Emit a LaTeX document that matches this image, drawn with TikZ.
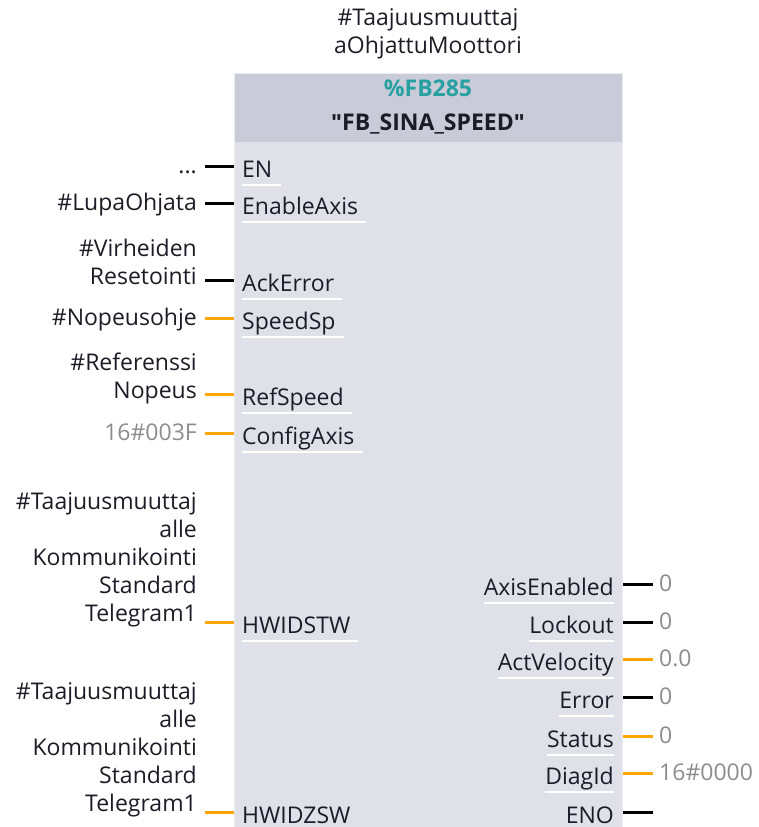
\documentclass[tikz,border=0pt]{standalone}
\usepackage{fontspec}
\setmainfont{Open Sans}
\newfontfamily\quotefont{Liberation Sans}
\definecolor{headfill}{RGB}{201,203,217}
\definecolor{bodyfill}{RGB}{223,224,232}
\definecolor{boxedge}{RGB}{236,236,242}
\definecolor{wireorange}{RGB}{255,165,0}
\definecolor{fbteal}{RGB}{38,160,160}
\definecolor{valgray}{RGB}{140,140,140}
\definecolor{ink}{RGB}{28,28,38}
\newcommand\dq{{\quotefont\bfseries\symbol{34}}}
\tikzset{
  every node/.style={font=\fontsize{23}{28}\selectfont, text=ink, inner sep=0pt},
  wireK/.style={draw=black, line width=3pt},
  wireO/.style={draw=wireorange, line width=3pt},
  inpin/.style={anchor=base west},
  outpin/.style={anchor=base east},
  srclabel/.style={anchor=south east, align=right, text depth=0pt},
  outval/.style={anchor=base west, text=valgray},
  uline/.style={draw=white, line width=1.2pt},
}
\begin{document}
\begin{tikzpicture}[x=1pt,y=-1pt]
\useasboundingbox (0,0) rectangle (759,827);

% block body and header
\fill[bodyfill] (235,74) rectangle (622,830);
\fill[headfill] (235,74) rectangle (622,142);
\draw[boxedge, line width=1pt] (234.5,830) -- (234.5,73.5) -- (622.5,73.5) -- (622.5,830);

% instance name and block title
\node[align=center] (inst) at (428,34) {\#Taajuusmuuttaj\\aOhjattuMoottori};
\node[font=\fontsize{23}{28}\selectfont\bfseries, text=fbteal] (fbnum) at (428,88) {\%FB285};
\node[font=\fontsize{23}{28}\selectfont\bfseries] (fbname) at (428,124) {\dq FB\_SINA\_SPEED\dq};

% ---------- inputs ----------
% pin names inside the block
\node[inpin] (pEN)   at (242,177) {EN};
\node[inpin] (pEnA)  at (242,214) {EnableAxis};
\node[inpin] (pAck)  at (242,291) {AckError};
\node[inpin] (pSpd)  at (242,329) {SpeedSp};
\node[inpin] (pRef)  at (242,405) {RefSpeed};
\node[inpin] (pCfg)  at (242,444) {ConfigAxis};
\node[inpin] (pSTW)  at (242,633) {HWIDSTW};
\node[inpin] (pZSW)  at (242,823) {HWIDZSW};

\foreach \p in {pEN,pEnA,pAck,pSpd,pRef,pCfg,pSTW}
  \draw[uline] ([yshift=-8pt]\p.base west) -- ([yshift=-8pt,xshift=8pt]\p.base east);

% actual parameters
\node[srclabel] (vEN)  at (197,174) {...};
\node[srclabel] (vEnA) at (197,211) {\#LupaOhjata};
\node[srclabel] (vAck) at (197,285) {\#Virheiden\\Resetointi};
\node[srclabel] (vSpd) at (197,326) {\#Nopeusohje};
\node[srclabel] (vRef) at (197,399) {\#Referenssi\\Nopeus};
\node[srclabel, text=valgray] (vCfg) at (197,441) {16\#003F};
\node[srclabel] (vSTW) at (197,622) {\#Taajuusmuuttaj\\alle\\Kommunikointi\\Standard\\Telegram1};
\node[srclabel] (vZSW) at (197,812) {\#Taajuusmuuttaj\\alle\\Kommunikointi\\Standard\\Telegram1};

% input wires
\coordinate (aEN)  at (205,166); \coordinate (bEN)  at (234,166);
\coordinate (aEnA) at (205,203); \coordinate (bEnA) at (234,203);
\coordinate (aAck) at (205,280); \coordinate (bAck) at (234,280);
\coordinate (aSpd) at (205,318); \coordinate (bSpd) at (234,318);
\coordinate (aRef) at (205,394); \coordinate (bRef) at (234,394);
\coordinate (aCfg) at (205,433); \coordinate (bCfg) at (234,433);
\coordinate (aSTW) at (205,622); \coordinate (bSTW) at (234,622);
\coordinate (aZSW) at (205,812); \coordinate (bZSW) at (234,812);
\draw[wireK] (aEN) -- (bEN);
\draw[wireK] (aEnA) -- (bEnA);
\draw[wireK] (aAck) -- (bAck);
\draw[wireO] (aSpd) -- (bSpd);
\draw[wireO] (aRef) -- (bRef);
\draw[wireO] (aCfg) -- (bCfg);
\draw[wireO] (aSTW) -- (bSTW);
\draw[wireO] (aZSW) -- (bZSW);

% ---------- outputs ----------
\node[outpin] (qAxE) at (614,595) {AxisEnabled};
\node[outpin] (qLck) at (614,633) {Lockout};
\node[outpin] (qVel) at (614,670) {ActVelocity};
\node[outpin] (qErr) at (614,708) {Error};
\node[outpin] (qSts) at (614,747) {Status};
\node[outpin] (qDia) at (614,784) {DiagId};
\node[outpin] (qENO) at (614,823) {ENO};

\foreach \p in {qAxE,qLck,qVel,qErr,qSts,qDia}
  \draw[uline] ([yshift=-8pt]\p.base west) -- ([yshift=-8pt]\p.base east);

\node[outval] (wAxE) at (659,591) {0};
\node[outval] (wLck) at (659,629) {0};
\node[outval] (wVel) at (659,666) {0.0};
\node[outval] (wErr) at (659,704) {0};
\node[outval] (wSts) at (659,743) {0};
\node[outval] (wDia) at (659,780) {16\#0000};

\coordinate (cAxE) at (623,584); \coordinate (dAxE) at (653,584);
\coordinate (cLck) at (623,622); \coordinate (dLck) at (653,622);
\coordinate (cVel) at (623,659); \coordinate (dVel) at (653,659);
\coordinate (cErr) at (623,697); \coordinate (dErr) at (653,697);
\coordinate (cSts) at (623,736); \coordinate (dSts) at (653,736);
\coordinate (cDia) at (623,773); \coordinate (dDia) at (653,773);
\coordinate (cENO) at (623,812); \coordinate (dENO) at (653,812);
\draw[wireK] (cAxE) -- (dAxE);
\draw[wireK] (cLck) -- (dLck);
\draw[wireO] (cVel) -- (dVel);
\draw[wireK] (cErr) -- (dErr);
\draw[wireO] (cSts) -- (dSts);
\draw[wireO] (cDia) -- (dDia);
\draw[wireK] (cENO) -- (dENO);
\end{tikzpicture}
\end{document}
